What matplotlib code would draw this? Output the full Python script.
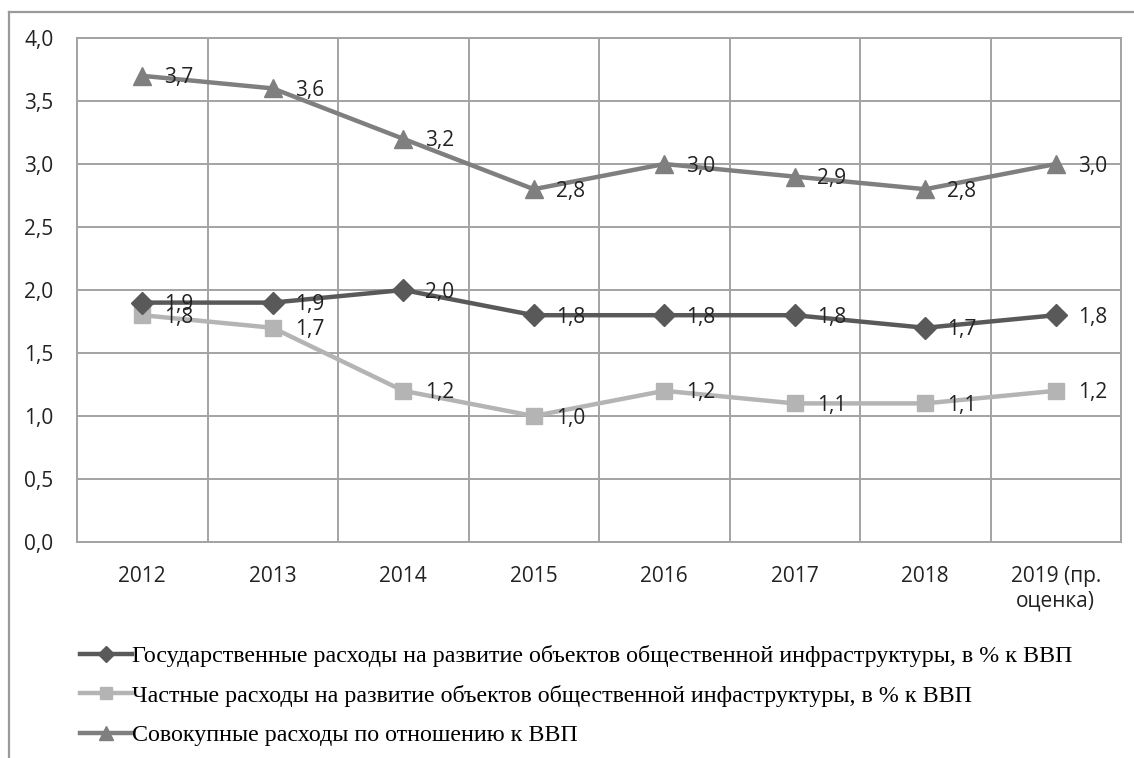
import matplotlib
matplotlib.use("Agg")
import matplotlib.pyplot as plt
from matplotlib.lines import Line2D

years = ["2012", "2013", "2014", "2015", "2016", "2017", "2018", "2019 (пр.\nоценка)"]
gov = [1.9, 1.9, 2.0, 1.8, 1.8, 1.8, 1.7, 1.8]
priv = [1.8, 1.7, 1.2, 1.0, 1.2, 1.1, 1.1, 1.2]
total = [3.7, 3.6, 3.2, 2.8, 3.0, 2.9, 2.8, 3.0]
names = ["Государственные расходы на развитие объектов общественной инфраструктуры, в % к ВВП",
         "Частные расходы на развитие объектов общественной инфаструктуры, в % к ВВП",
         "Совокупные расходы по отношению к ВВП"]

W, H = 1134, 758
fig = plt.figure(figsize=(W / 100, H / 100), dpi=100)
ax = fig.add_axes([77 / W, 1 - 542 / H, (1121 - 77) / W, (542 - 38) / H])

GRID = "#a3a3a3"
FS = 15
x = list(range(len(years)))
series = [(gov, "#595959", "D", 11), (priv, "#b4b4b4", "s", 12), (total, "#7f7f7f", "^", 13)]

# total first, gov on top
for idx in [2, 1, 0]:
    vals, col, mk, ms = series[idx]
    ax.plot(x, vals, color=col, lw=3.2, marker=mk, ms=ms, zorder=3 + (2 - idx))
    for xi, v in zip(x, vals):
        ax.annotate(f"{v:.1f}".replace(".", ","), (xi, v), xytext=(16, -1.5),
                    textcoords="offset points", ha="left", va="center",
                    fontsize=FS, family="Open Sans", color="#222222", zorder=6)
handles = [Line2D([], [], color=c, lw=3.2, marker=m, ms=s - 3) for _, c, m, s in series]

ax.set_xlim(-0.5, len(years) - 0.5)
ax.set_ylim(0, 4)
ax.set_yticks([i * 0.5 for i in range(9)])
ax.set_yticklabels([f"{i * 0.5:.1f}".replace(".", ",") for i in range(9)])
ax.set_xticks(x)
ax.set_xticklabels(years)
ax.set_xticks([i + 0.5 for i in range(len(years) - 1)], minor=True)
ax.tick_params(which="both", length=0)
ax.tick_params(axis="y", pad=17)
ax.tick_params(axis="x", pad=17)
for lab in ax.get_xticklabels() + ax.get_yticklabels():
    lab.set_fontfamily("Open Sans")
    lab.set_fontsize(FS)
    lab.set_color("#222222")
    lab.set_linespacing(1.25)
ax.grid(axis="y", which="major", color=GRID, lw=1.4)
ax.grid(axis="x", which="minor", color=GRID, lw=1.4)
ax.set_axisbelow(True)
for s in ax.spines.values():
    s.set_color(GRID)
    s.set_linewidth(1.4)

# outer chart frame
fig.add_artist(Line2D([9 / W, 1], [1 - 12 / H, 1 - 12 / H], transform=fig.transFigure, color="#9a9a9a", lw=1.6))
fig.add_artist(Line2D([9 / W, 9 / W], [0, 1 - 12 / H], transform=fig.transFigure, color="#9a9a9a", lw=1.6))

fig.legend(handles, names, loc="upper left", bbox_to_anchor=(80 / W, 1 - 645 / H),
           frameon=False, prop={"family": "Liberation Serif", "size": 17.3},
           handlelength=2.16, handletextpad=0.0, labelspacing=0.74, borderaxespad=0, borderpad=0)

fig.savefig("out.png", dpi=100)
